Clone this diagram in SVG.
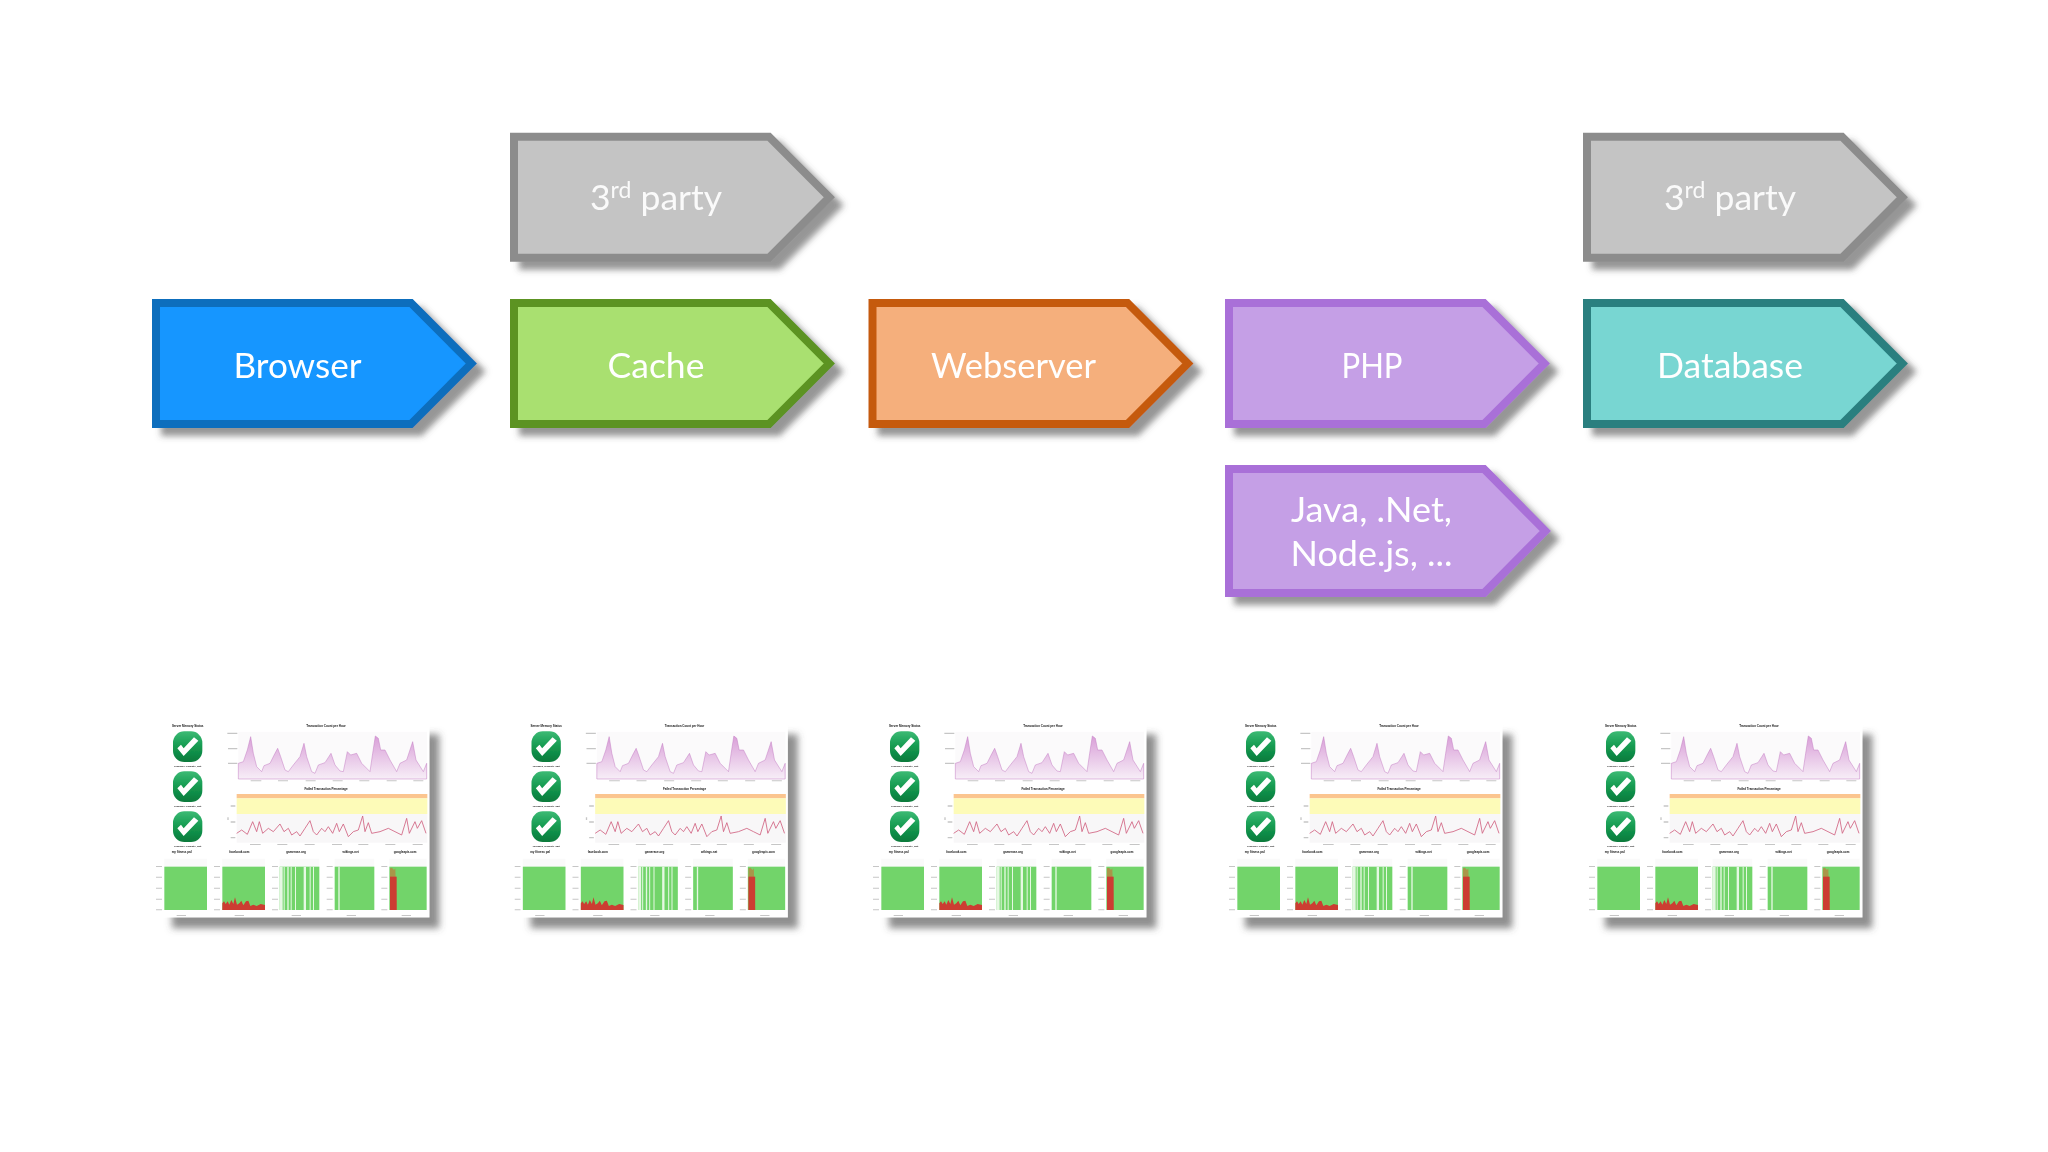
<svg xmlns="http://www.w3.org/2000/svg" width="2048" height="1152" viewBox="0 0 2048 1152">
<style>
.lbl{font-family:"Lato","Liberation Sans",sans-serif;font-size:35.5px;fill:#fff;text-anchor:middle}
.lblg{fill:#fafafa}
.a{stroke-width:8;stroke-linejoin:miter;stroke-miterlimit:8}
.blue{fill:#1496ff;stroke:#0f6ebd}
.gray{fill:#c4c4c4;stroke:#8c8c8c}
.green{fill:#a9e070;stroke:#5b9321}
.orange{fill:#f5af7b;stroke:#c55a11}
.purple{fill:#c59fe6;stroke:#a970d8}
.teal{fill:#78d6d2;stroke:#2a7f7f}
.t{font-family:"Liberation Sans",sans-serif;font-weight:700;font-size:9px;fill:#111;text-anchor:middle}
.s{font-family:"Liberation Sans",sans-serif;font-weight:700;font-size:7px;fill:#333;text-anchor:middle}
.g{fill:#72d46b}
.r{fill:#cc3c30}
.tick{fill:#c6c6c6}
.hd{fill:#fafafa}
</style>
<defs>
<filter id="sh" x="-10%" y="-15%" width="125%" height="135%"><feDropShadow dx="9" dy="8" stdDeviation="3.200" flood-color="#4a4a4a" flood-opacity="0.58"/></filter>
<filter id="shT" x="-8%" y="-8%" width="120%" height="125%"><feDropShadow dx="30" dy="33" stdDeviation="11" flood-color="#4a4a4a" flood-opacity="0.62"/></filter>
<filter id="soft" x="-2%" y="-2%" width="104%" height="104%"><feGaussianBlur stdDeviation="1.300"/></filter>
<linearGradient id="areaFill" x1="0" y1="0" x2="0" y2="1"><stop offset="0" stop-color="#d99fd8"/><stop offset="1" stop-color="#f7eef7"/></linearGradient>
<linearGradient id="chk" x1="0" y1="0" x2="0" y2="1"><stop offset="0" stop-color="#3cba74"/><stop offset="0.5" stop-color="#149a50"/><stop offset="1" stop-color="#0b7a3c"/></linearGradient>
<path id="arrow" d="M0 0H255L315.300 60.500 255 121H0Z"/>
<g id="icon">
<rect x="-44" y="-46" width="88" height="92" rx="34" fill="url(#chk)"/>
<path d="M-31 5L-12 28L32 -18L19 -28L-12 5L-20 -6Z" fill="#fff"/>
</g>
<g id="dash">
<g transform="translate(140 700) scale(0.33333)">
<rect x="66" y="70" width="802" height="582" fill="#fff" filter="url(#shT)"/>
<g filter="url(#soft)">
<text class="t" x="143" y="81">Server Memory Status</text>
<text class="t" x="558" y="81">Transaction Count per Hour</text>
<text class="t" x="558" y="269">Failed Transaction Percentage</text>
<use href="#icon" x="143" y="140"/>
<use href="#icon" x="143" y="260"/>
<use href="#icon" x="143" y="380"/>
<text class="s" x="143" y="201">13xx3203_realwaite_g8ft</text>
<text class="s" x="143" y="321">13xx3203_realwaite_g8ft</text>
<text class="s" x="143" y="441">13xx3203_realwaite_g8ft</text>
<rect x="295" y="95" width="566" height="142" fill="#fbfafb"/>
<path d="M295 237V190L310 185L322 150L332 110L340 160L350 200L365 215L372 197L390 190L405 160L413 145L422 170L435 210L445 215L460 195L480 170L492 130L500 170L515 215L525 220L535 195L555 188L573 160L585 195L600 213L610 215L622 155L632 165L650 160L665 190L690 215L698 160L706 108L715 115L722 150L735 150L750 180L770 215L780 190L800 180L818 125L828 180L850 215L860 190V237Z" fill="url(#areaFill)" stroke="#c27cc2" stroke-width="1.500"/>
<path class="tick" d="M262 98h30v4h-30zM264 144h28v4h-28zM264 188h28v4h-28zM332 241h32v3h-32zM414 241h30v3h-30zM497 241h30v3h-30zM578 241h30v3h-30zM658 241h30v3h-30zM740 241h30v3h-30zM820 241h30v3h-30z"/>
<rect x="290" y="282" width="572" height="13" fill="#fbc58f"/>
<rect x="290" y="295" width="572" height="47" fill="#fdfbb8"/>
<rect x="290" y="342" width="572" height="86" fill="#f8f7f8"/>
<path d="M290 400L305 390L322 403L338 365L350 395L358 365L368 400L385 385L400 395L420 372L432 395L445 385L455 405L470 395L480 408L495 385L510 362L520 395L530 405L545 385L555 395L565 380L578 400L590 370L598 395L610 372L625 410L640 395L655 390L668 348L675 395L685 368L695 400L720 395L745 385L765 395L785 405L800 355L808 400L825 365L832 385L845 362L858 400" fill="none" stroke="#d0607f" stroke-width="2.500"/>
<path class="tick" d="M272 316h14v4h-14zM272 364h14v4h-14zM272 411h14v4h-14zM262 352h4v8h-4zM330 432h32v3h-32zM412 432h30v3h-30zM494 432h30v3h-30zM576 432h30v3h-30zM655 432h30v3h-30zM736 432h30v3h-30zM818 432h30v3h-30z"/>
<text class="t" x="125" y="460">my fitness pal</text>
<text class="t" x="298" y="460">facebook.com</text>
<text class="t" x="468" y="460">gamerase.org</text>
<text class="t" x="632" y="460">wikings.net</text>
<text class="t" x="795" y="460">googleapis.com</text>
<path class="hd" d="M73 476h128v24h-128zM247 476h128v24h-128zM419 476h119v24h-119zM584 476h119v24h-119zM748 476h112v24h-112z"/>
<rect x="73" y="500" width="128" height="130" class="g"/>
<rect x="247" y="500" width="128" height="130" class="g"/>
<path class="r" d="M247 630V610L252 604L257 612L263 604L268 614L274 600L280 612L285 592L291 614L298 610L304 602L310 616L318 604L325 602L331 618L340 614L350 618L362 612L375 615V630Z"/>
<rect x="419" y="500" width="119" height="130" class="g"/>
<path fill="#e6f8e3" d="M419 500h9v130h-9zM431 500h3v130h-3zM442 500h4v130h-4zM452 500h3v130h-3zM465 500h3v130h-3zM491 500h7v130h-7zM509 500h3v130h-3zM519 500h3v130h-3z"/>
<rect x="584" y="500" width="119" height="130" class="g"/>
<rect x="595" y="500" width="4" height="130" fill="#e6f8e3"/>
<rect x="748" y="500" width="112" height="130" class="g"/>
<path fill="#a9964a" d="M750 630V505L756 503L762 510L766 505L770 630Z"/>
<path class="r" d="M750 630V530H770V630Z"/>
<path class="tick" d="M48 498h18v3h-18zM48 530h18v3h-18zM48 563h18v3h-18zM48 596h18v3h-18zM48 628h18v3h-18zM222 498h18v3h-18zM222 530h18v3h-18zM222 563h18v3h-18zM222 596h18v3h-18zM222 628h18v3h-18zM396 498h18v3h-18zM396 530h18v3h-18zM396 563h18v3h-18zM396 596h18v3h-18zM396 628h18v3h-18zM560 498h18v3h-18zM560 530h18v3h-18zM560 563h18v3h-18zM560 596h18v3h-18zM560 628h18v3h-18zM724 498h18v3h-18zM724 530h18v3h-18zM724 563h18v3h-18zM724 596h18v3h-18zM724 628h18v3h-18z"/>
<path class="tick" d="M110 645h28v3h-28zM284 645h28v3h-28zM455 645h28v3h-28zM620 645h28v3h-28zM785 645h28v3h-28z"/>
</g>
</g>
</g>
</defs>

<g id="node-browser" filter="url(#sh)"><use href="#arrow" x="156" y="303" class="a blue"/><text class="lbl" x="297.500" y="378" textLength="128" lengthAdjust="spacingAndGlyphs">Browser</text></g>
<g id="node-cache" filter="url(#sh)"><use href="#arrow" x="514" y="303" class="a green"/><text class="lbl" x="656" y="378">Cache</text></g>
<g id="node-webserver" filter="url(#sh)"><use href="#arrow" x="872.500" y="303" class="a orange"/><text class="lbl" x="1013.500" y="378" textLength="165" lengthAdjust="spacingAndGlyphs">Webserver</text></g>
<g id="node-php" filter="url(#sh)"><use href="#arrow" x="1229" y="303" class="a purple"/><text class="lbl" x="1372" y="378" textLength="61" lengthAdjust="spacingAndGlyphs">PHP</text></g>
<g id="node-database" filter="url(#sh)"><use href="#arrow" x="1587" y="303" class="a teal"/><text class="lbl" x="1730" y="378">Database</text></g>
<g id="node-3rdparty-cache" filter="url(#sh)"><use href="#arrow" x="514" y="136.700" class="a gray"/><text class="lbl lblg" x="656" y="210">3<tspan font-size="23" dy="-12">rd</tspan><tspan dy="12"> party</tspan></text></g>
<g id="node-3rdparty-database" filter="url(#sh)"><use href="#arrow" x="1587" y="136.700" class="a gray"/><text class="lbl lblg" x="1730" y="210">3<tspan font-size="23" dy="-12">rd</tspan><tspan dy="12"> party</tspan></text></g>
<g id="node-java" filter="url(#sh)"><path d="M1229 469H1484L1545.300 531 1484 593H1229Z" class="a purple"/><text class="lbl" x="1371.500" y="522" textLength="161" lengthAdjust="spacingAndGlyphs">Java, .Net,</text><text class="lbl" x="1371.500" y="566" textLength="162" lengthAdjust="spacingAndGlyphs">Node.js, ...</text></g>

<g id="dashboard-browser"><use href="#dash" x="0" y="0"/></g>
<g id="dashboard-cache"><use href="#dash" x="358.500" y="0"/></g>
<g id="dashboard-webserver"><use href="#dash" x="717" y="0"/></g>
<g id="dashboard-php"><use href="#dash" x="1073" y="0"/></g>
<g id="dashboard-database"><use href="#dash" x="1433" y="0"/></g>
</svg>
